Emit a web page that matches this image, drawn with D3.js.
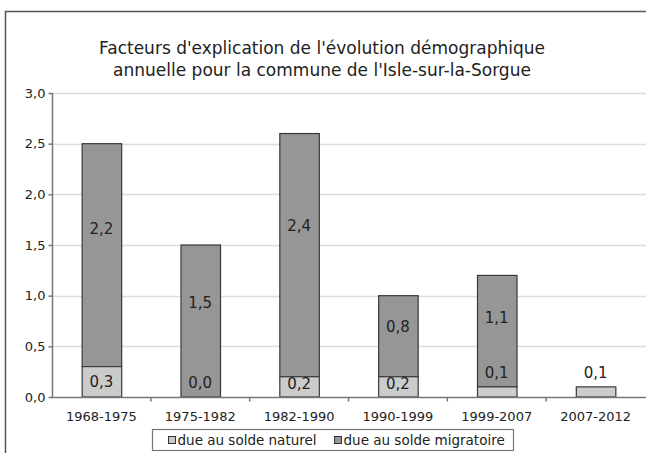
<!DOCTYPE html>
<html>
<head>
<meta charset="utf-8">
<script src="https://cdn.jsdelivr.net/npm/d3@7"></script>
<style>
  body { margin: 0; background: #fff; }
  svg { display: block; font-family: "DejaVu Sans", Verdana, sans-serif; }
</style>
</head>
<body>
<div id="chart"></div>
<script>
// data
var periods = ['1968-1975', '1975-1982', '1982-1990', '1990-1999', '1999-2007', '2007-2012']
var naturel = [0.3, 0.0, 0.2, 0.2, 0.1, 0.1]
var migratoire = [2.2, 1.5, 2.4, 0.8, 1.1, null]
var yTicks = [0, 0.5, 1, 1.5, 2, 2.5, 3]
var seriesNames = ['due au solde naturel', 'due au solde migratoire']
var titleLines = ["Facteurs d'explication de l'évolution démographique", "annuelle pour la commune de l'Isle-sur-la-Sorgue"]

var W = 646, H = 453
var colNat = '#cbcbcb', colMig = '#969696', stroke = '#3a3a3a'
var fmt = function(v) { return v.toFixed(1).replace('.', ',') }

var svg = d3.select('#chart').append('svg')
	.attr('width', W)
	.attr('height', H)

// chart frame (runs off right and bottom edges)
svg.append('path')
	.attr('d', 'M' + 5.5 + ',' + (H + 5) + 'V' + 11.5 + 'H' + (W + 5))
	.attr('fill', 'none')
	.attr('stroke', '#555')
	.attr('stroke-width', 1.5)

svg.append('g').selectAll('text')
	.data(titleLines)
	.enter()
	.append('text')
	.attr('x', 322)
	.attr('y', function(d, i) { return 54 + i * 22 })
	.attr('text-anchor', 'middle')
	.style('font-size', '17px')
	.attr('fill', '#222')
	.text(function(d) { return d })

var x = d3.scaleBand().domain(periods).range([52, 645]).paddingInner(0.6).paddingOuter(0.3)
var y = d3.scaleLinear().domain([0, 3]).range([397, 93])

// gridlines
svg.append('g').selectAll('line')
	.data(yTicks.slice(1))
	.enter()
	.append('line')
	.attr('x1', 52)
	.attr('x2', W)
	.attr('y1', function(d) { return Math.round(y(d)) + 0.5 })
	.attr('y2', function(d) { return Math.round(y(d)) + 0.5 })
	.attr('stroke', '#dcdcdc')
	.attr('stroke-width', 1.5)

// bars
var rows = periods.map(function(p, i) {
	return { p: p, nat: naturel[i], mig: migratoire[i] }
})
var bars = svg.append('g')
bars.selectAll('.mig')
	.data(rows.filter(function(d) { return d.mig !== null }))
	.enter()
	.append('rect')
	.attr('class', 'mig')
	.attr('x', function(d) { return x(d.p) + 0.5 })
	.attr('width', x.bandwidth())
	.attr('y', function(d) { return y(d.nat + d.mig) })
	.attr('height', function(d) { return y(d.nat) - y(d.nat + d.mig) })
	.attr('fill', colMig)
	.attr('stroke', stroke)
	.attr('stroke-width', 1.2)
bars.selectAll('.nat')
	.data(rows.filter(function(d) { return d.nat > 0 }))
	.enter()
	.append('rect')
	.attr('class', 'nat')
	.attr('x', function(d) { return x(d.p) + 0.5 })
	.attr('width', x.bandwidth())
	.attr('y', function(d) { return y(d.nat) })
	.attr('height', function(d) { return y(0) - y(d.nat) })
	.attr('fill', colNat)
	.attr('stroke', stroke)
	.attr('stroke-width', 1.2)

// value labels
var labels = svg.append('g')
	.attr('text-anchor', 'middle')
	.style('font-size', '15px')
	.attr('fill', '#222')
labels.selectAll('.lm')
	.data(rows.filter(function(d) { return d.mig !== null }))
	.enter()
	.append('text')
	.attr('x', function(d) { return x(d.p) + x.bandwidth() / 2 })
	.attr('y', function(d) { return y(d.nat + d.mig * 0.62) })
	.attr('dy', '0.36em')
	.text(function(d) { return fmt(d.mig) })
labels.selectAll('.ln')
	.data(rows)
	.enter()
	.append('text')
	.attr('x', function(d) { return x(d.p) + x.bandwidth() / 2 })
	.attr('y', function(d) {
		var h = y(0) - y(d.nat)
		if (h < 15) return y(d.nat) - 14
		return Math.min(y(d.nat / 2), y(0) - 13)
	})
	.attr('dy', '0.36em')
	.text(function(d) { return fmt(d.nat) })

// axes
var yAxis = svg.append('g')
	.attr('transform', 'translate(52.5,0)')
	.call(d3.axisLeft(y).tickValues(yTicks).tickSize(4).tickFormat(fmt))
yAxis.select('.domain').attr('d', 'M0,' + y(3) + 'V' + y(0))
var xAxis = svg.append('g')
	.attr('transform', 'translate(0,' + (y(0) + 0.5) + ')')
	.call(d3.axisBottom(x).tickSize(0).tickPadding(14))
xAxis.select('.domain').attr('d', 'M52,0H' + W)
xAxis.selectAll('.bound')
	.data(periods.slice(1))
	.enter()
	.append('line')
	.attr('class', 'bound')
	.attr('x1', function(d) { return x(d) - x.step() * x.paddingInner() / 2 })
	.attr('x2', function(d) { return x(d) - x.step() * x.paddingInner() / 2 })
	.attr('y1', 0)
	.attr('y2', 4)
svg.selectAll('.domain, .tick line, .bound')
	.attr('stroke', '#777')
	.attr('stroke-width', 1.5)
svg.selectAll('.tick text')
	.style('font-size', '13px')
	.style('font-family', '"DejaVu Sans", Verdana, sans-serif')
	.attr('fill', '#222')

// legend
var legend = svg.append('g').attr('transform', 'translate(152.5,429.5)')
legend.append('rect')
	.attr('width', 361)
	.attr('height', 21)
	.attr('fill', '#fff')
	.attr('stroke', '#777')
	.attr('stroke-width', 1.2)
var items = legend.selectAll('.item')
	.data(seriesNames)
	.enter()
	.append('g')
	.attr('transform', function(d, i) { return 'translate(' + [16, 182][i] + ',0)' })
items.append('rect')
	.attr('y', 7)
	.attr('width', 7)
	.attr('height', 7)
	.attr('fill', function(d, i) { return [colNat, colMig][i] })
	.attr('stroke', '#333')
	.attr('stroke-width', 1)
items.append('text')
	.attr('x', 9)
	.attr('y', 15)
	.style('font-size', '13.5px')
	.attr('fill', '#222')
	.text(function(d) { return d })
</script>
</body>
</html>
